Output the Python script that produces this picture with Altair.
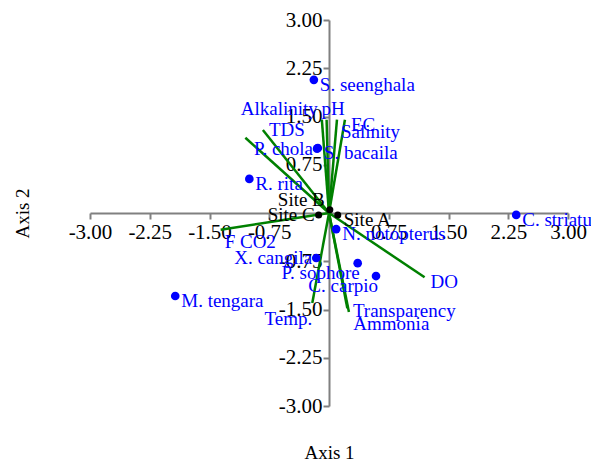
import altair as alt
import pandas as pd

# ---- data ----
species = ["S. seenghala", "S. bacaila", "P. chola", "R. rita", "C. striatus",
           "N. notopterus", "X. cangila", "P. sophore", "C. carpio", "M. tengara"]
species_x = [-0.19, -0.14, -0.15, -1.00, 2.35, 0.09, -0.16, 0.36, 0.59, -1.93]
species_y = [2.07, 1.01, 1.00, 0.53, -0.03, -0.25, -0.70, -0.78, -0.98, -1.29]
species_pos = ["r", "r", "l", "r", "r", "r", "l", "bl", "bl", "r"]

sites = ["Site A", "Site B", "Site C"]
sites_x = [0.11, 0.01, -0.13]
sites_y = [-0.03, 0.05, -0.03]
sites_pos = ["r", "ul", "l"]

variables = ["Alkalinity", "pH", "Salinity", "EC", "TDS", "", "F CO2",
             "DO", "Temp.", "Transparency", "Ammonia"]
var_x = [-0.09, -0.03, 0.10, 0.20, -0.83, -1.05, -1.36, 1.20, -0.21, 0.25, 0.23]
var_y = [1.45, 1.45, 1.45, 1.45, 1.29, 1.17, -0.26, -1.00, -1.40, -1.54, -1.48]
var_pos = ["tl", "t", "b", "r", "rt", "r", "b", "r", "bl2", "rr", "b2"]

tick_values = [-3.0, -2.25, -1.5, -0.75, 0.75, 1.5, 2.25, 3.0]

W, H = 478, 386
FONT = "Liberation Serif"
FS = 19
TFS = 21

pts = pd.DataFrame({"name": species, "x": species_x, "y": species_y,
                    "pos": species_pos, "kind": "species"})
st = pd.DataFrame({"name": sites, "x": sites_x, "y": sites_y,
                   "pos": sites_pos, "kind": "site"})
vec = pd.DataFrame({"name": variables, "x": var_x, "y": var_y,
                    "pos": var_pos, "kind": "vector"})
vec["x0"] = 0.0
vec["y0"] = 0.0

labels = pd.concat([pts, st, vec[vec["name"] != ""][["name", "x", "y", "pos", "kind"]]],
                   ignore_index=True)

minus_fix = "replace(format(datum.value, '.2f'), '\u2212', '-')"

xscale = alt.Scale(domain=[-3, 3], nice=False, zero=False)
yscale = alt.Scale(domain=[-3, 3], nice=False, zero=False)

common_axis = dict(grid=False, domainColor="#808080", domainWidth=2,
                   tickColor="#808080", tickWidth=2, tickSize=6,
                   labelFont=FONT, labelFontSize=TFS, labelColor="black",
                   labelOverlap=False, labelFlush=False,
                   titleFont=FONT, titleFontSize=FS, titleFontWeight="normal",
                   titleColor="black")

xaxis = alt.Axis(values=tick_values, labelExpr=minus_fix, offset=-H / 2,
                 labelPadding=2, title="Axis 1",
                 titleX=W / 2, titleY=245, titleBaseline="alphabetic", **common_axis)
yaxis = alt.Axis(values=tick_values, labelExpr=minus_fix, offset=-W / 2,
                 labelPadding=1, title="Axis 2",
                 titleX=-307, titleY=H / 2, titleBaseline="middle", **common_axis)

color_scale = alt.Scale(domain=["species", "vector", "site"],
                        range=["#0000ff", "#0000ff", "#000000"])

lines = alt.Chart(vec).mark_rule(color="#008000", strokeWidth=2.5).encode(
    x=alt.X("x0:Q", scale=xscale, axis=xaxis),
    y=alt.Y("y0:Q", scale=yscale, axis=yaxis),
    x2="x:Q", y2="y:Q",
)

dots_sp = alt.Chart(pts).mark_circle(size=75, opacity=1, color="#0000ff").encode(
    x=alt.X("x:Q", scale=xscale), y=alt.Y("y:Q", scale=yscale))
dots_st = alt.Chart(st).mark_circle(size=50, opacity=1, color="#000000").encode(
    x=alt.X("x:Q", scale=xscale), y=alt.Y("y:Q", scale=yscale))

placements = {
    "r": dict(align="left", dx=6, dy=11),
    "rt": dict(align="left", dx=6, dy=6),
    "rr": dict(align="left", dx=4, dy=5),
    "l": dict(align="right", dx=-4, dy=6),
    "bl": dict(align="right", dx=2, dy=16),
    "bl2": dict(align="right", dx=0, dy=22),
    "tl": dict(align="right", dx=-4, dy=-5),
    "t": dict(align="left", dx=-5, dy=-5),
    "b": dict(align="left", dx=4, dy=18),
    "b2": dict(align="left", dx=6, dy=22),
    "ul": dict(align="right", dx=-5, dy=-4),
}

text_layers = []
for key, p in placements.items():
    text_layers.append(
        alt.Chart(labels).transform_filter(alt.datum.pos == key).mark_text(
            font=FONT, fontSize=FS, baseline="alphabetic", **p
        ).encode(
            x=alt.X("x:Q", scale=xscale), y=alt.Y("y:Q", scale=yscale),
            text="name:N",
            color=alt.Color("kind:N", scale=color_scale, legend=None),
        )
    )

chart = alt.layer(lines, dots_sp, dots_st, *text_layers).properties(
    width=W, height=H,
    background="white",
    autosize=alt.AutoSizeParams(type="none"),
    padding={"left": 82, "top": 12, "right": 23, "bottom": 54},
).configure_view(stroke=None)

chart.save("out.html", embed_options={"renderer": "svg", "actions": False})
